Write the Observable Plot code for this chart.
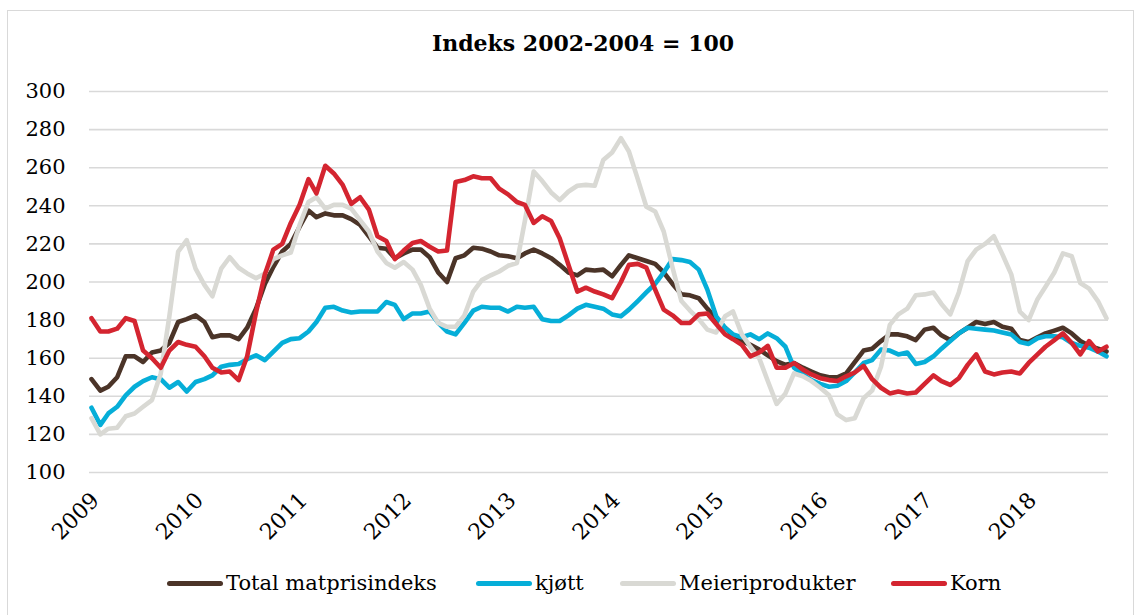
<!DOCTYPE html>
<html>
<head>
<meta charset="utf-8">
<script src="https://cdn.jsdelivr.net/npm/d3@7"></script>
<script src="https://cdn.jsdelivr.net/npm/@observablehq/plot@0.6"></script>
<style>
  body { margin: 0; background: #fff; }
  #wrap { position: relative; width: 1141px; height: 615px; overflow: hidden; font-family: "DejaVu Serif", serif; color: #000; }
  #frame { position: absolute; left: 7px; top: 10px; width: 1127px; height: 640px; border: 1px solid #d9d9d9; box-sizing: border-box; }
  #title { position: absolute; left: 0; width: 1166px; top: 30px; text-align: center; font-weight: bold; font-size: 22px; line-height: 26px; }
  #chart { position: absolute; left: 0; top: 0; }
  .leg { position: absolute; top: 570px; display: flex; align-items: center; font-size: 21px; line-height: 26px; white-space: nowrap; }
  .sw { width: 56px; height: 5px; border-radius: 3px; margin-right: 3px; }
</style>
</head>
<body>
<div id="wrap">
  <div id="frame"></div>
  <div id="chart"></div>
  <div id="title">Indeks 2002-2004 = 100</div>
  <div id="legend"></div>
</div>
<script>
// ---- data ----
const titleText = "Indeks 2002-2004 = 100";
const seriesNames = ["Total matprisindeks", "kjøtt", "Meieriprodukter", "Korn"];
const seriesColors = ["#4b3428", "#06aed8", "#d9d9d4", "#d42530"];
const yTicks = [100, 120, 140, 160, 180, 200, 220, 240, 260, 280, 300];
const yearTicks = ["2009", "2010", "2011", "2012", "2013", "2014", "2015", "2016", "2017", "2018"];
// monthly, January 2009 - October 2018
const months = d3.utcMonths(new Date(Date.UTC(2009, 0, 1)), new Date(Date.UTC(2018, 10, 1)));

const total = [
  149,143,145,150,161,161,158,163,164,168,179,180.5,
  182.5,179,171,172,172,170,176,186,199,208,216,220,
  229,237.5,234,236,235,235,233,230,224,218,217.5,212.5,
  215,217,217,213,205,200,212.5,214,218,217.5,216,214,
  213.5,212.5,215,217,215,212.5,209,205,203.5,206.5,206,206.5,
  203,209,214,212.5,211,209.5,205,199,193.5,193,191.5,186,
  181,176,172,169,167,164.5,161.5,158.5,156.5,157.5,155,153,
  151,150,150,152,158,164,165,169,172.5,172.5,171.5,169.5,
  175,176,172,169.5,173,176,179,178,179,176.5,175.5,169.5,
  168.5,171,173,174.5,176,173,169,166.5,165,163.5
];
const kjott = [
  134,125,131,134.5,140.5,145,148,150,149,144.5,147.5,142.5,
  147.5,149,151,155.5,156.5,157,159.5,161.5,159,163.5,168,170,
  170.5,174,179,186.5,187,185,184,184.5,184.5,184.5,189.5,188,
  180.5,183.5,183.5,184.5,178.5,174,172.5,178.5,185,187,186.5,186.5,
  184.5,187,186.5,187,180.5,179.5,179.5,182.5,186,188,187,186,
  183,182,185.5,190,194.5,199,205,212,211.5,210.5,206.5,196,
  182,176,172.5,171,172.5,170,173,170.5,166,155,151.5,148.5,
  146.5,145,145.5,148,152.5,157.5,159,164.5,164,162,163,157,
  158,161,165,169,173,176,175.5,175,174.5,173.5,172.5,168.5,
  167.5,170.5,171.5,171.5,171,168,166.5,165.5,163.5,161
];
const meieri = [
  128.5,120,123,123.5,129.5,131,134.5,138,152,182,216,222,
  207,198.5,192.5,207,213,207.5,204.5,202,204.5,212,214,215.5,
  230,242,244.5,238.5,240.5,240.5,238.5,232.5,226.5,216,210,207.5,
  210.5,206.5,198.5,186,178.5,176.5,176.5,182.5,195,201,203.5,205.5,
  208.5,210,232,258,253,247,243,247.5,250.5,251,250.5,264,
  268,275.5,268.5,254,239.5,237,226.5,207.5,190,185,180.5,175,
  173.5,182,184.5,172.5,166,160,148,136,141.5,152,150.5,148,
  144.5,140.5,130.5,127.5,128.5,139,143,155.5,177.5,183,186,193,
  193.5,194.5,188.5,183,194.5,211,217,220,224,214.5,204,184.5,
  180,191,197.5,205,215,213.5,199.5,196.5,190,181
];
const korn = [
  181,174,174,175.5,181,179.5,164,160,155,164,168.5,167,
  166,161,155,152.5,153,148.5,161,184,204,217,220,231,
  240.5,254,246.5,261,257,251,241,244.5,238,224,221.5,212,
  216.5,220.5,221.5,218.5,216,216.5,252.5,253.5,255.5,254.5,254.5,249,
  246,242,240.5,231,234.5,232,223,209,195,197,195,193.5,
  191.5,200,209,209.5,207.5,196,185.5,182.5,178.5,178.5,183,183.5,
  178,172.5,170,167,161,163,166.5,155,155,157.5,154,151.5,
  149.5,148.5,148,150.5,152.5,156,149,144.5,141.5,142.5,141.5,142,
  146.5,151,148,146,149.5,156.5,162,153,151.5,152.5,153,152,
  157.5,162,166,169.5,173,168,162,169,163.5,166
];
const seriesValues = [total, kjott, meieri, korn];

// ---- build ----
const table = seriesNames.map((name, s) =>
  months.map((date, i) => ({ name, date, value: seriesValues[s][i] }))
);
const yearDates = yearTicks.map(y => new Date(Date.UTC(+y, 0, 1)));

const chart = Plot.plot({
  width: 1141,
  height: 615,
  marginLeft: 89,
  marginRight: 33,
  marginTop: 91,
  marginBottom: 143,
  style: { fontFamily: '"DejaVu Serif", serif', fontSize: "21px", color: "#000", background: "transparent", overflow: "visible" },
  x: { type: "utc", domain: [months[0], months[months.length - 1]], insetLeft: 2, insetRight: 2, label: null },
  y: { domain: [100, 300], label: null },
  color: { domain: seriesNames, range: seriesColors },
  marks: [
    Plot.ruleY(yTicks, { stroke: "#d9d9d9", strokeWidth: 1.6 }),
    Plot.axisY({ ticks: yTicks, tickSize: 0, tickPadding: 24, label: null, fontSize: 21 }),
    Plot.axisX({ ticks: yearDates, tickFormat: d3.utcFormat("%Y"), tickRotate: -45, tickSize: 0, tickPadding: 24, dx: 4, label: null, fontSize: 22 }),
    ...table.map(rows => Plot.line(rows, {
      x: "date", y: "value", stroke: "name",
      strokeWidth: 4.6, strokeLinejoin: "round", strokeLinecap: "round"
    }))
  ]
});
document.getElementById("chart").appendChild(chart);

// ---- legend ----
const legendLeft = [167, 476, 620, 891];
const legend = document.getElementById("legend");
seriesNames.forEach((name, i) => {
  const item = document.createElement("div");
  item.className = "leg";
  item.style.left = legendLeft[i] + "px";
  const sw = document.createElement("div");
  sw.className = "sw";
  sw.style.background = seriesColors[i];
  const tx = document.createElement("span");
  tx.textContent = name;
  item.appendChild(sw);
  item.appendChild(tx);
  legend.appendChild(item);
});
</script>
</body>
</html>
